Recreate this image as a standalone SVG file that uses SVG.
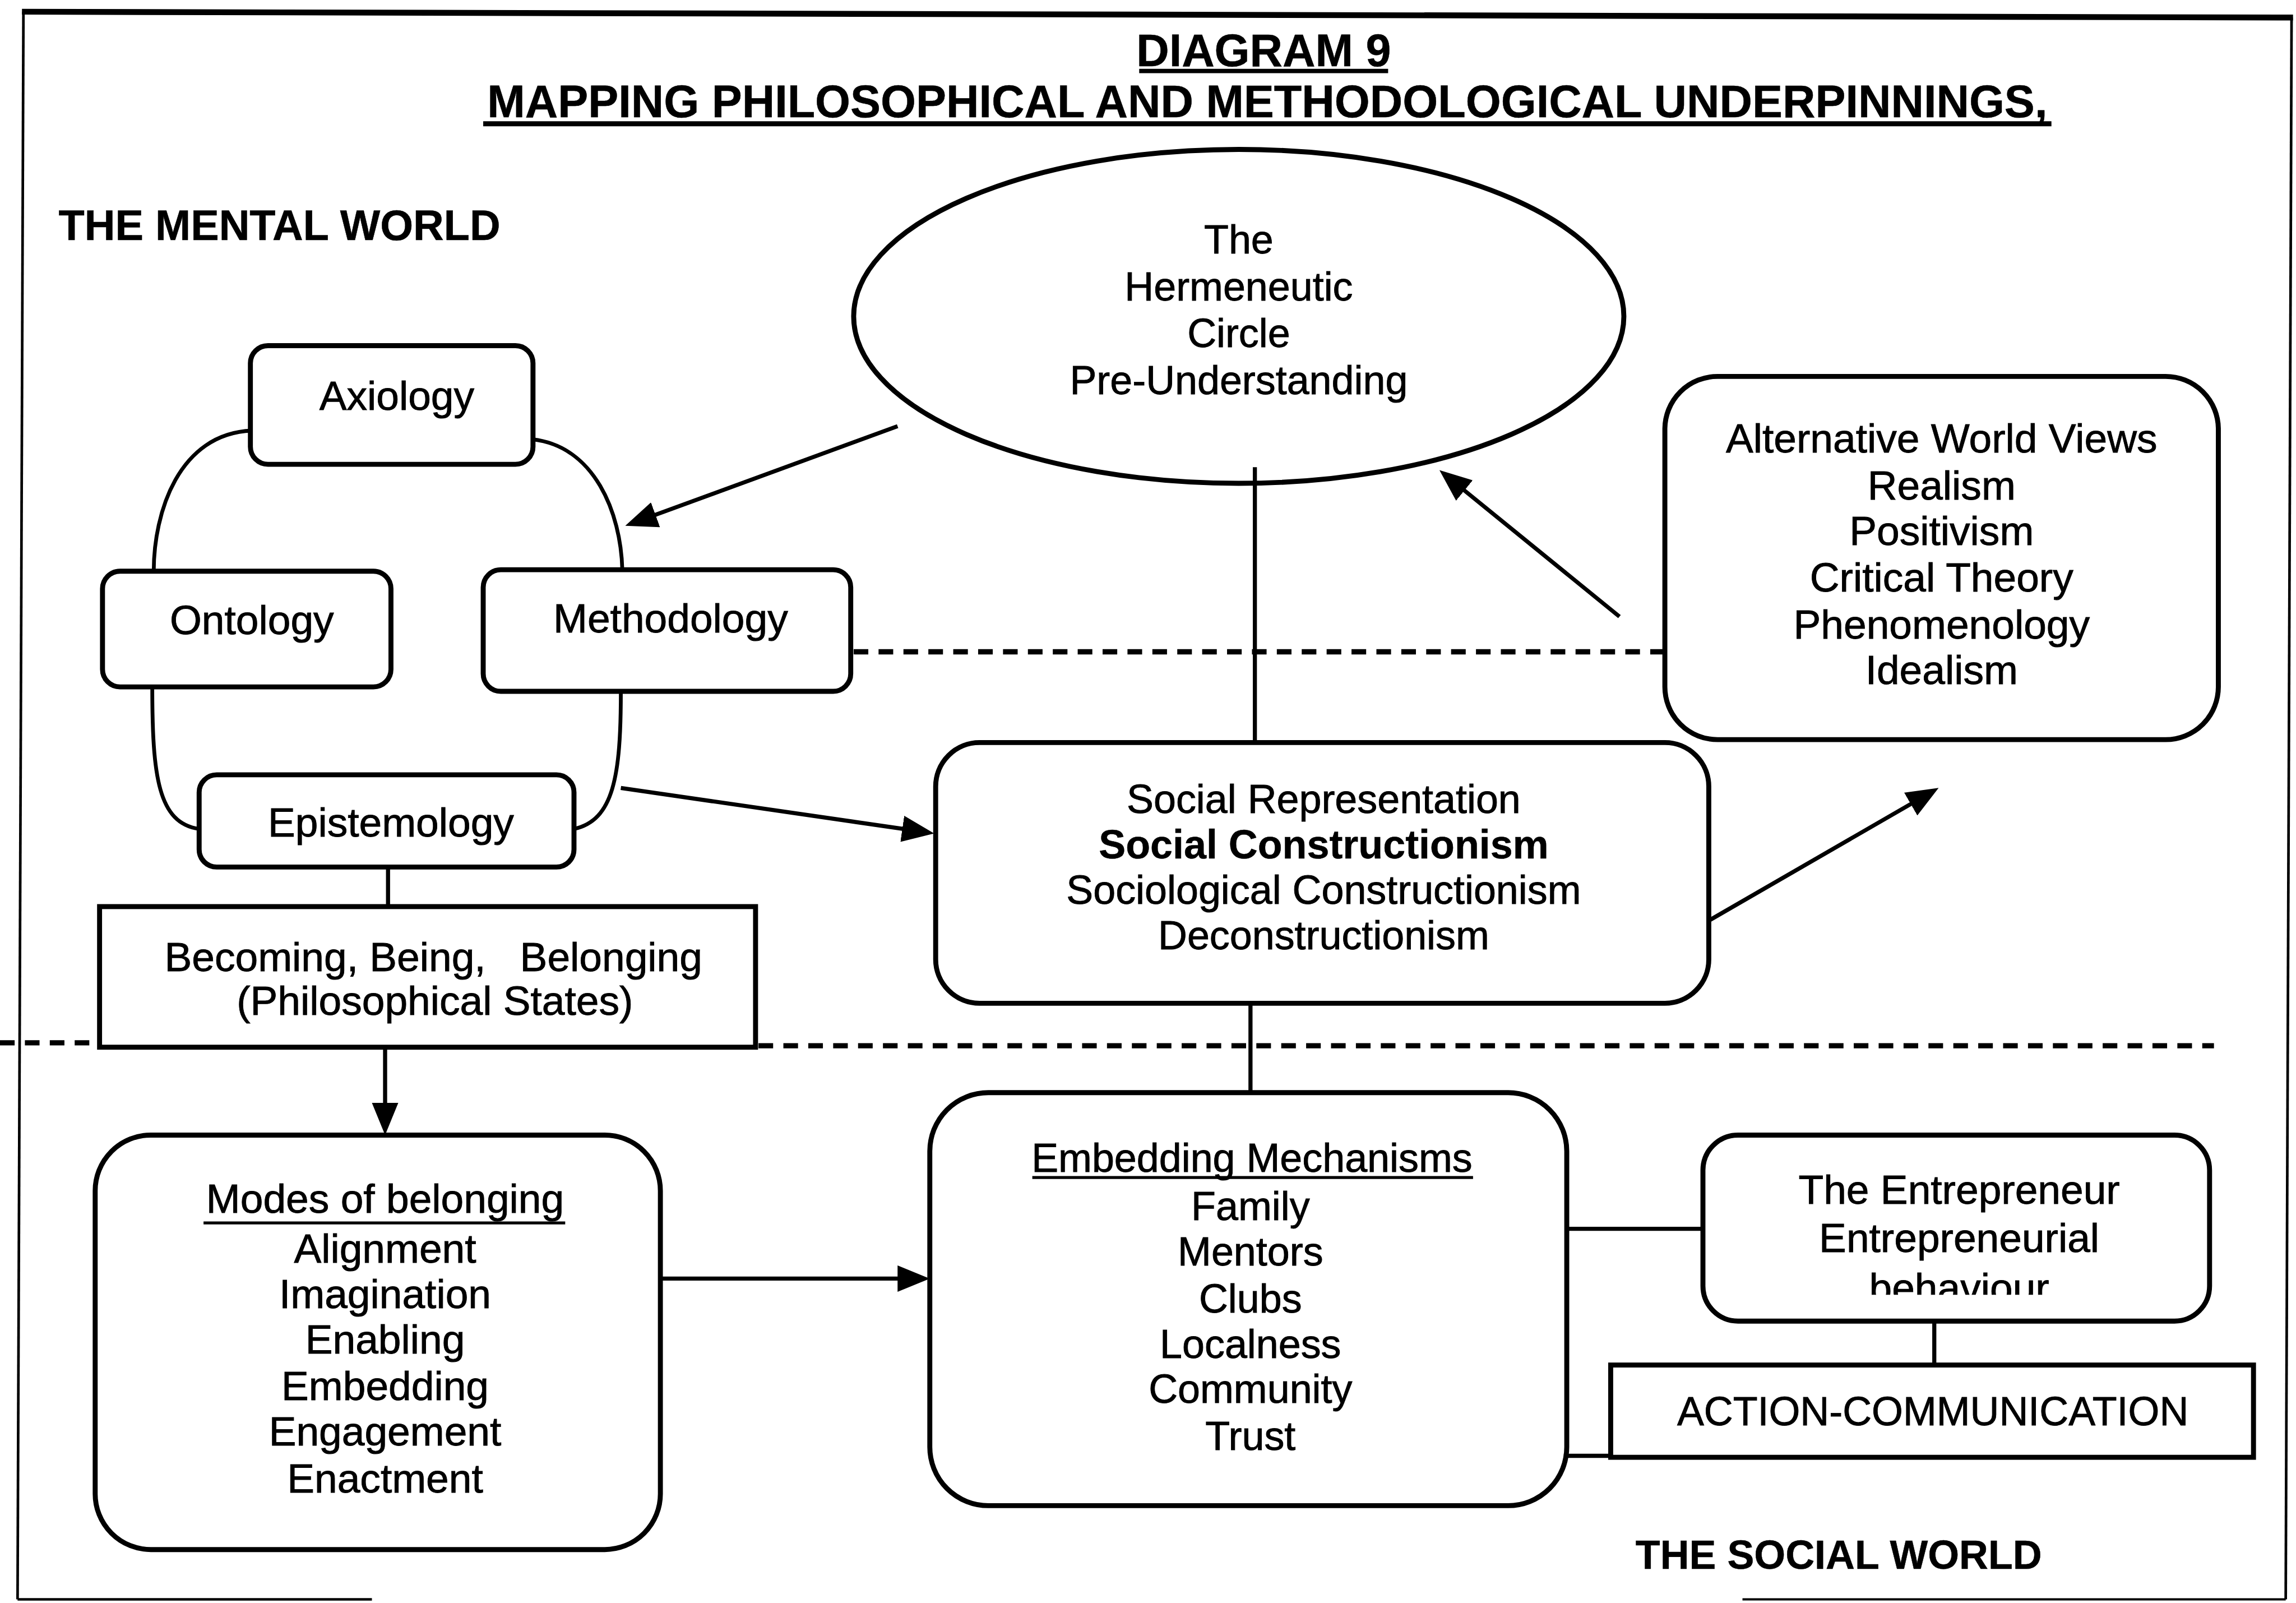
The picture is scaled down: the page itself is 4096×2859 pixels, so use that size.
<svg xmlns="http://www.w3.org/2000/svg" width="4096" height="2859" viewBox="0 0 4096 2859">
<style>
.bx{fill:#fff;stroke:#000;stroke-width:3.4}
.ln{fill:none;stroke:#000;stroke-width:2.8}
.loop{fill:none;stroke:#000;stroke-width:2.6}
.dash{fill:none;stroke:#000;stroke-width:3.6;stroke-dasharray:10 7}
.ar{marker-end:url(#ah)}
.ul{stroke:#000;stroke-width:2}
text{font-family:"Liberation Sans",Arial,Helvetica,sans-serif;font-size:28px;fill:#000;stroke:#000;stroke-width:0.35;text-anchor:middle}
.b{font-weight:bold;stroke-width:0.2}
.st{text-anchor:start}
</style>
<defs>
<marker id="ah" markerUnits="userSpaceOnUse" viewBox="0 0 22 18" markerWidth="22" markerHeight="18" refX="12" refY="9" orient="auto">
<path d="M0,0 L22,9 L0,18 z" fill="#000"/>
</marker>
<clipPath id="clipEnt"><rect x="1165" y="776" width="342" height="108"/></clipPath>
</defs>
<rect width="4096" height="2859" fill="#fff"/>
<g transform="scale(2.6122)">
<g id="frame">
<line x1="15" y1="8" x2="1566" y2="12" stroke="#000" stroke-width="4"/>
<line x1="16" y1="8" x2="12" y2="1092" stroke="#000" stroke-width="1.8"/>
<line x1="1565" y1="12" x2="1561" y2="1092" stroke="#000" stroke-width="1.8"/>
<line x1="12" y1="1092" x2="254" y2="1092" stroke="#000" stroke-width="1.8"/>
<line x1="1190" y1="1092" x2="1561" y2="1092" stroke="#000" stroke-width="1.5"/>
</g>
<g id="title">
<text class="b" x="863" y="45" style="font-size:31px">DIAGRAM 9</text>
<line x1="778" y1="48.5" x2="948" y2="48.5" stroke="#000" stroke-width="3"/>
<text class="b" x="865.5" y="80" style="font-size:31px">MAPPING PHILOSOPHICAL AND METHODOLOGICAL UNDERPINNINGS,</text>
<line x1="330" y1="84.5" x2="1401" y2="84.5" stroke="#000" stroke-width="3.5"/>
<text class="b st" x="40" y="164" style="font-size:29px">THE MENTAL WORLD</text>
<text class="b st" x="1117" y="1071" style="font-size:27.5px">THE SOCIAL WORLD</text>
</g>
<g id="n-ellipse">
<ellipse cx="846" cy="216" rx="263" ry="114" class="bx"/>
<text x="846" y="173" style="font-size:27.5px">The</text>
<text x="846" y="205" style="font-size:27.5px">Hermeneutic</text>
<text x="846" y="237" style="font-size:27.5px">Circle</text>
<text x="846" y="269" style="font-size:27.5px">Pre-Understanding</text>
</g>
<g id="n-axiology">
<rect x="171" y="236" width="193" height="81" rx="12" class="bx"/>
<text x="271" y="280">Axiology</text>
</g>
<g id="n-ontology">
<rect x="70" y="390" width="197" height="79" rx="12" class="bx"/>
<text x="172" y="433">Ontology</text>
</g>
<g id="n-methodology">
<rect x="330" y="389" width="251" height="83" rx="12" class="bx"/>
<text x="458" y="432">Methodology</text>
</g>
<g id="n-epistemology">
<rect x="136" y="529" width="256" height="63" rx="12" class="bx"/>
<text x="267" y="571">Epistemology</text>
</g>
<g id="n-becoming">
<rect x="68" y="619" width="448" height="96" class="bx"/>
<text x="296" y="663" xml:space="preserve">Becoming, Being,   Belonging</text>
<text x="297" y="693">(Philosophical States)</text>
</g>
<g id="n-alt">
<rect x="1137" y="257" width="378" height="248" rx="36" class="bx"/>
<text x="1326" y="309">Alternative World Views</text>
<text x="1326" y="341">Realism</text>
<text x="1326" y="372">Positivism</text>
<text x="1326" y="404">Critical Theory</text>
<text x="1326" y="436">Phenomenology</text>
<text x="1326" y="467">Idealism</text>
</g>
<g id="n-socialrep">
<rect x="639" y="507" width="528" height="178" rx="30" class="bx"/>
<text x="904" y="555" style="font-size:27.5px">Social Representation</text>
<text class="b" x="904" y="586" style="font-size:27.5px">Social Constructionism</text>
<text x="904" y="617" style="font-size:27.5px">Sociological Constructionism</text>
<text x="904" y="648" style="font-size:27.5px">Deconstructionism</text>
</g>
<g id="n-modes">
<rect x="65" y="775" width="386" height="283" rx="38" class="bx"/>
<text x="263" y="828">Modes of belonging</text>
<line x1="139" y1="835" x2="386" y2="835" class="ul"/>
<text x="263" y="862">Alignment</text>
<text x="263" y="893">Imagination</text>
<text x="263" y="924">Enabling</text>
<text x="263" y="956">Embedding</text>
<text x="263" y="987">Engagement</text>
<text x="263" y="1019">Enactment</text>
</g>
<g id="n-embedding">
<rect x="635" y="746" width="435" height="282" rx="40" class="bx"/>
<text x="855" y="800" style="font-size:27.5px">Embedding Mechanisms</text>
<line x1="705" y1="804" x2="1006" y2="804" class="ul"/>
<text x="854" y="833" style="font-size:27.5px">Family</text>
<text x="854" y="864" style="font-size:27.5px">Mentors</text>
<text x="854" y="896" style="font-size:27.5px">Clubs</text>
<text x="854" y="927" style="font-size:27.5px">Localness</text>
<text x="854" y="958" style="font-size:27.5px">Community</text>
<text x="854" y="990" style="font-size:27.5px">Trust</text>
</g>
<g id="n-entrepreneur">
<rect x="1163" y="775" width="346" height="127" rx="24" class="bx"/>
<text x="1338" y="822">The Entrepreneur</text>
<text x="1338" y="855">Entrepreneurial</text>
<text x="1338" y="889" clip-path="url(#clipEnt)">behaviour</text>
</g>
<g id="n-action">
<rect x="1100" y="932" width="439" height="63" class="bx"/>
<text x="1320" y="973" style="font-size:27.5px">ACTION-COMMUNICATION</text>
</g>
<g id="connectors">
<path class="loop" d="M172,294 C122,296 105,350 105,390"/>
<path class="loop" d="M364,300 C406,305 424,350 425,389"/>
<path class="loop" d="M104,469 C104,530 108,562 136,566"/>
<path class="loop" d="M424,472 C424,530 419,560 392,566"/>
<line class="ln ar" x1="613" y1="291" x2="436.4" y2="355.6"/>
<line class="ln ar" x1="424" y1="538" x2="628.1" y2="567.6"/>
<line class="ln ar" x1="1106" y1="421" x2="990.8" y2="327.3"/>
<line class="ln ar" x1="1168" y1="628" x2="1315.3" y2="543"/>
<line class="ln ar" x1="263" y1="715" x2="263" y2="765"/>
<line class="ln ar" x1="451" y1="873" x2="625" y2="873"/>
<line class="ln" x1="857" y1="319" x2="857" y2="507"/>
<line class="ln" x1="265" y1="592" x2="265" y2="619"/>
<line class="ln" x1="854" y1="685" x2="854" y2="746"/>
<line class="ln" x1="1070" y1="839" x2="1163" y2="839"/>
<line class="ln" x1="1321" y1="902" x2="1321" y2="932"/>
<line class="ln" x1="1068" y1="994" x2="1100" y2="994"/>
<line class="dash" x1="583" y1="445" x2="1137" y2="445"/>
<line class="dash" x1="0" y1="712" x2="68" y2="712"/>
<line class="dash" x1="518" y1="714" x2="1512" y2="714"/>
</g>
</g>
</svg>
